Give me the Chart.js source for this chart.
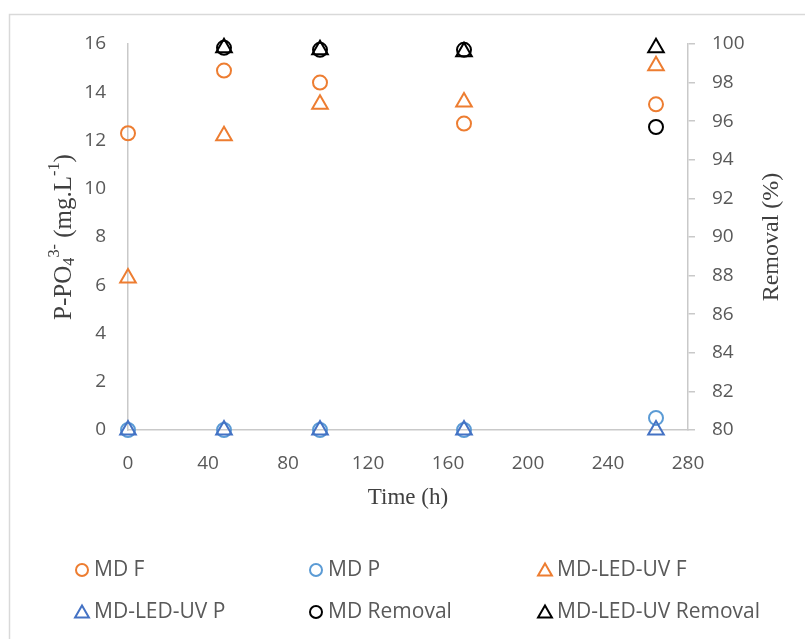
<!DOCTYPE html>
<html>
<head>
<meta charset="utf-8">
<script src="https://cdn.jsdelivr.net/npm/chart.js@4/dist/chart.umd.min.js"></script>
<style>
  html, body { margin: 0; padding: 0; background: #ffffff; }
  #wrap { position: relative; width: 805px; height: 639px; }
</style>
</head>
<body>
<div id="wrap"><canvas id="chart" width="805" height="639"></canvas></div>
<script>
// Sampling times (h) and measured phosphate concentrations (mg/L)
const hours = [0, 48, 96, 168, 264];
const mdFeed = [12.3, 14.9, 14.4, 12.7, 13.5];
const mdPermeate = [0, 0, 0, 0, 0.5];
const ledUvFeed = [6.3, 12.2, 13.5, 13.6, 15.1];
const ledUvPermeate = [0, 0, 0, 0, 0];

// Removal efficiency (%) from 48 h onwards
const removalHours = [48, 96, 168, 264];
const mdRemoval = [99.8, 99.7, 99.7, 95.7];
const ledUvRemoval = [99.8, 99.7, 99.6, 99.8];

// Axis tick values
const timeTicks = [0, 40, 80, 120, 160, 200, 240, 280];
const concTicks = [0, 2, 4, 6, 8, 10, 12, 14, 16];
const removalTicks = [80, 82, 84, 86, 88, 90, 92, 94, 96, 98, 100];

const ORANGE = '#ED7D31';
const LIGHT_BLUE = '#5B9BD5';
const BLUE = '#4472C4';
const BLACK = '#000000';
const TEXT = '#595959';
const TITLE = '#404040';
const AXIS = '#c9c9c9';
const TICK_FONT = { family: '"Open Sans", sans-serif', size: 19 };
const SERIF = '"Liberation Serif", "Times New Roman", serif';

function pts(xs, ys) { return xs.map((x, i) => ({ x: x, y: ys[i] })); }

const series = [
  { label: 'MD F', data: pts(hours, mdFeed), color: ORANGE, style: 'circle', axis: 'y' },
  { label: 'MD P', data: pts(hours, mdPermeate), color: LIGHT_BLUE, style: 'circle', axis: 'y' },
  { label: 'MD-LED-UV F', data: pts(hours, ledUvFeed), color: ORANGE, style: 'triangle', axis: 'y' },
  { label: 'MD-LED-UV P', data: pts(hours, ledUvPermeate), color: BLUE, style: 'triangle', axis: 'y' },
  { label: 'MD Removal', data: pts(removalHours, mdRemoval), color: BLACK, style: 'circle', axis: 'y2' },
  { label: 'MD-LED-UV Removal', data: pts(removalHours, ledUvRemoval), color: BLACK, style: 'triangle', axis: 'y2' }
];

const datasets = series.map((s, i) => ({
  label: s.label,
  data: s.data,
  yAxisID: s.axis,
  pointStyle: s.style,
  pointRadius: s.style === 'circle' ? 7 : 9,
  pointHoverRadius: s.style === 'circle' ? 7 : 9,
  pointBorderWidth: 2,
  borderColor: s.color,
  backgroundColor: 'rgba(0,0,0,0)',
  showLine: false,
  clip: false,
  order: series.length - i
}));

function fixedTicks(values) {
  return scale => { scale.ticks = values.map(v => ({ value: v })); };
}

// Draws a centred run of text segments (normal / sub / sup) along the baseline
function drawRich(ctx, parts, size) {
  let total = 0;
  const measured = parts.map(p => {
    const fs = p.kind ? size * 0.65 : size;
    ctx.font = fs + 'px ' + SERIF;
    const w = ctx.measureText(p.t).width;
    total += w;
    return { p: p, fs: fs, w: w };
  });
  let x = -total / 2;
  measured.forEach(m => {
    ctx.font = m.fs + 'px ' + SERIF;
    let dy = 0;
    if (m.p.kind === 'sub') dy = size * 0.22;
    if (m.p.kind === 'sup') dy = -size * 0.38;
    ctx.fillText(m.p.t, x, dy);
    x += m.w;
  });
}

const decorations = {
  id: 'decorations',
  beforeDraw(chart) {
    const ctx = chart.ctx;
    ctx.save();
    ctx.fillStyle = '#ffffff';
    ctx.fillRect(0, 0, chart.width, chart.height);
    ctx.strokeStyle = '#d9d9d9';
    ctx.lineWidth = 1.5;
    ctx.beginPath();
    ctx.moveTo(9.5, chart.height);
    ctx.lineTo(9.5, 14.5);
    ctx.lineTo(chart.width, 14.5);
    ctx.stroke();
    ctx.restore();
  },
  afterDraw(chart) {
    const ctx = chart.ctx;
    const area = chart.chartArea;
    const midY = (area.top + area.bottom) / 2;
    ctx.save();
    ctx.fillStyle = TITLE;
    ctx.textBaseline = 'middle';
    ctx.textAlign = 'left';

    // Left axis title with sub/superscripts
    ctx.save();
    ctx.translate(64, midY);
    ctx.rotate(-Math.PI / 2);
    drawRich(ctx, [
      { t: 'P-PO' }, { t: '4', kind: 'sub' }, { t: '3-', kind: 'sup' },
      { t: ' (mg.L' }, { t: '-1', kind: 'sup' }, { t: ')' }
    ], 25);
    ctx.restore();

    // Right axis title
    ctx.save();
    ctx.translate(772, midY);
    ctx.rotate(-Math.PI / 2);
    ctx.textAlign = 'center';
    ctx.font = '24px ' + SERIF;
    ctx.fillText('Removal (%)', 0, 0);
    ctx.restore();

    // Bottom axis title
    ctx.textAlign = 'center';
    ctx.font = '23px ' + SERIF;
    ctx.fillText('Time (h)', (area.left + area.right) / 2, 498);

    // Legend: two rows of three entries
    const colX = [82, 316, 545];
    const rowY = [570, 612];
    ctx.textAlign = 'left';
    ctx.font = '21px "Open Sans", sans-serif';
    series.forEach((s, i) => {
      const cx = colX[i % 3];
      const cy = rowY[Math.floor(i / 3)];
      ctx.strokeStyle = s.color;
      ctx.lineWidth = 2;
      ctx.beginPath();
      if (s.style === 'circle') {
        ctx.arc(cx, cy, 6, 0, Math.PI * 2);
      } else {
        const r = 8;
        ctx.moveTo(cx, cy - r + 1.5);
        ctx.lineTo(cx + r * 0.866, cy + r * 0.5 + 1.5);
        ctx.lineTo(cx - r * 0.866, cy + r * 0.5 + 1.5);
        ctx.closePath();
      }
      ctx.stroke();
      ctx.fillStyle = TEXT;
      ctx.fillText(s.label, cx + 12, cy);
    });
    ctx.restore();
  }
};

new Chart(document.getElementById('chart'), {
  type: 'scatter',
  data: { datasets: datasets },
  options: {
    responsive: false,
    animation: false,
    events: [],
    layout: { padding: { top: 44, left: 0, right: 0, bottom: 0 } },
    plugins: { legend: { display: false }, tooltip: { enabled: false } },
    scales: {
      x: {
        type: 'linear',
        min: 0, max: 280,
        afterBuildTicks: fixedTicks(timeTicks),
        afterFit: s => { s.height = 209; },
        grid: { display: false, drawTicks: false },
        border: { display: true, color: AXIS, width: 1.5 },
        ticks: { color: TEXT, font: TICK_FONT, padding: 22, maxRotation: 0 }
      },
      y: {
        type: 'linear',
        position: 'left',
        min: 0, max: 16,
        afterBuildTicks: fixedTicks(concTicks),
        afterFit: s => { s.width = 128; },
        grid: { display: false, drawTicks: false },
        border: { display: true, color: AXIS, width: 1.5 },
        ticks: { color: TEXT, font: TICK_FONT, padding: 22 }
      },
      y2: {
        type: 'linear',
        position: 'right',
        min: 80, max: 100,
        afterBuildTicks: fixedTicks(removalTicks),
        afterFit: s => { s.width = 117; },
        grid: { display: true, drawOnChartArea: false, drawTicks: true, tickLength: 7, color: AXIS, lineWidth: 1.5 },
        border: { display: true, color: AXIS, width: 1.5 },
        ticks: { color: TEXT, font: TICK_FONT, padding: 17 }
      }
    }
  },
  plugins: [decorations]
});
</script>
</body>
</html>
